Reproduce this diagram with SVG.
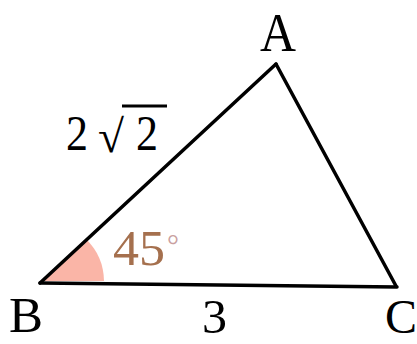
<svg xmlns="http://www.w3.org/2000/svg" width="417" height="344" viewBox="0 0 417 344">
<style>
.lbl{font-family:"Liberation Serif","Times New Roman",serif;fill:#000;}
.edge{stroke:#000;stroke-width:3.5;fill:none;stroke-linecap:round;stroke-linejoin:miter;}
</style>
<rect width="417" height="344" fill="#fff"/>
<g id="angle-mark">
<path d="M44,281 L104,281 A60,60 0 0 0 86,239 Z" fill="#f9a898" opacity="0.85"/>
<text class="lbl" x="113" y="265" font-size="50" style="fill:#a5704e" textLength="52" lengthAdjust="spacingAndGlyphs">45</text>
<text class="lbl" x="167" y="255" font-size="30" style="fill:#c9a0a0">°</text>
</g>
<g id="connectors">
<line class="edge" x1="40" y1="283" x2="276" y2="64"/>
<line class="edge" x1="276" y1="64" x2="396" y2="286"/>
<line class="edge" x1="40" y1="283" x2="397" y2="287"/>
</g>
<g id="node-A"><text class="lbl" x="278" y="51" font-size="55" text-anchor="middle" textLength="36" lengthAdjust="spacingAndGlyphs">A</text></g>
<g id="node-B"><text class="lbl" x="9" y="332" font-size="50" textLength="34" lengthAdjust="spacingAndGlyphs">B</text></g>
<g id="node-C"><text class="lbl" x="385" y="333" font-size="48" textLength="32" lengthAdjust="spacingAndGlyphs">C</text></g>
<g id="label-AB">
<text class="lbl" x="66" y="150" font-size="50" textLength="22" lengthAdjust="spacingAndGlyphs">2</text>
<text class="lbl" x="98" y="152" font-size="46" textLength="26" lengthAdjust="spacingAndGlyphs">√</text>
<line x1="122" y1="106" x2="167" y2="106" stroke="#000" stroke-width="3"/>
<text class="lbl" x="136" y="150" font-size="50" textLength="22" lengthAdjust="spacingAndGlyphs">2</text>
</g>
<g id="label-BC"><text class="lbl" x="202" y="333" font-size="48" textLength="25" lengthAdjust="spacingAndGlyphs">3</text></g>
</svg>
